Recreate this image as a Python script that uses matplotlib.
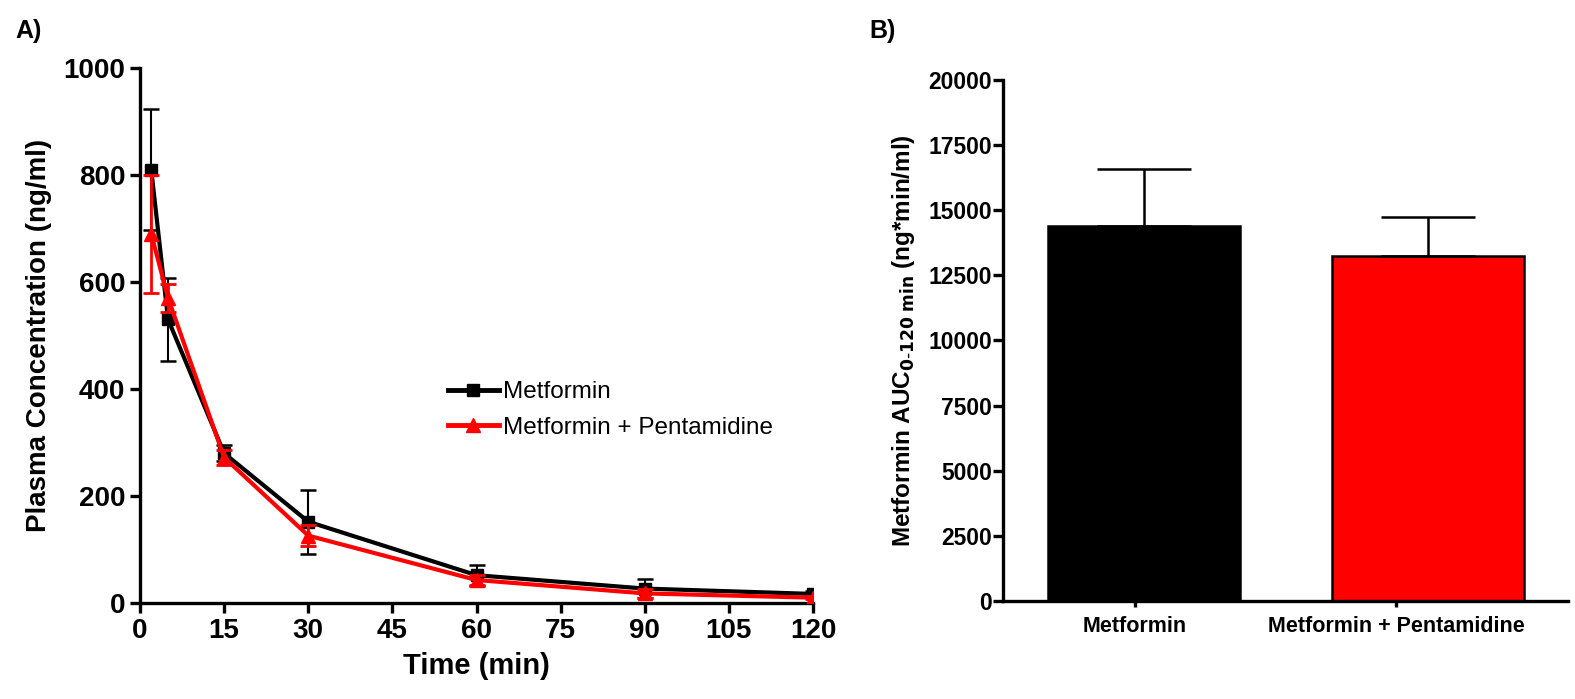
import numpy as np
import matplotlib.pyplot as plt
from matplotlib.lines import Line2D

plt.rcParams['font.family'] = ['Liberation Sans', 'DejaVu Sans']

# Plasma concentration time course (mean, SD)
time_min = [2, 5, 15, 30, 60, 90, 120]
met_mean = [810, 530, 280, 152, 52, 27, 17]
met_sd = [113, 77, 15, 60, 20, 17, 5]
pent_mean = [690, 570, 272, 126, 43, 18, 10]
pent_sd = [110, 26, 14, 20, 10, 8, 3]

# AUC 0-120 min
groups = ['Metformin', 'Metformin + Pentamidine']
auc_mean = [14400, 13250]
auc_sd = [2200, 1480]
bar_colors = ['black', 'red']

fig = plt.figure(figsize=(15.75, 6.99), dpi=100)
axA = fig.add_axes([0.0889, 0.1373, 0.4273, 0.7654])
axB = fig.add_axes([0.6368, 0.1402, 0.3588, 0.7454])

spine_w = 2.4

# --- panel A ---
axA.errorbar(time_min, met_mean, yerr=met_sd, color='black', lw=3,
             marker='s', ms=9, elinewidth=1.5, capsize=6, capthick=1.8, zorder=3)
axA.errorbar(time_min, pent_mean, yerr=pent_sd, color='red', lw=3,
             marker='^', ms=10, elinewidth=2, capsize=6, capthick=2, zorder=4)
axA.set_xlim(0, 120)
axA.set_ylim(0, 1000)
axA.set_xticks(np.arange(0, 121, 15))
axA.set_yticks(np.arange(0, 1001, 200))
axA.set_xlabel('Time (min)', fontsize=21, fontweight='bold', labelpad=6)
axA.set_ylabel('Plasma Concentration (ng/ml)', fontsize=20, fontweight='bold', labelpad=8)
handles = [Line2D([], [], color='black', lw=3.5, marker='s', ms=9),
           Line2D([], [], color='red', lw=3.5, marker='^', ms=10)]
axA.legend(handles, ['Metformin', 'Metformin + Pentamidine'], loc='upper left',
           bbox_to_anchor=(0.425, 0.455), frameon=False, fontsize=17.5,
           handlelength=2.1, handletextpad=0.15, labelspacing=0.55)

# --- panel B ---
xpos = np.arange(len(groups))
axB.bar(xpos, auc_mean, width=0.676, color=bar_colors, edgecolor='black', lw=1.8, zorder=2)
axB.errorbar(xpos, auc_mean, yerr=[[0, 0], auc_sd], fmt='none', ecolor='black',
             elinewidth=1.8, capsize=34, capthick=1.8, zorder=3)
axB.set_xlim(-0.496, 1.493)
axB.set_ylim(0, 20000)
axB.set_yticks(np.arange(0, 20001, 2500))
axB.set_xticks(xpos + np.array([-0.032, -0.113]))
axB.set_xticklabels(groups, fontsize=15.5, fontweight='bold')
axB.set_ylabel(r'Metformin AUC$_{\mathbf{0\text{-}120\ min}}$ (ng*min/ml)',
               fontsize=17.5, fontweight='bold', labelpad=8)

for ax in (axA, axB):
    for s in ('top', 'right'):
        ax.spines[s].set_visible(False)
    for s in ('left', 'bottom'):
        ax.spines[s].set_linewidth(spine_w)
    ax.tick_params(width=spine_w, length=7, direction='out')

for lbl in axA.get_xticklabels() + axA.get_yticklabels():
    lbl.set_fontsize(20)
    lbl.set_fontweight('bold')
for lbl in axB.get_yticklabels():
    lbl.set_fontsize(16.5)
    lbl.set_fontweight('bold')
axB.tick_params(axis='x', length=4, pad=7)
axB.tick_params(axis='y', pad=1)

fig.text(0.01, 0.955, 'A)', fontsize=18, fontweight='bold', va='center')
fig.text(0.552, 0.955, 'B)', fontsize=18, fontweight='bold', va='center')

fig.savefig('out.png', dpi=100)
